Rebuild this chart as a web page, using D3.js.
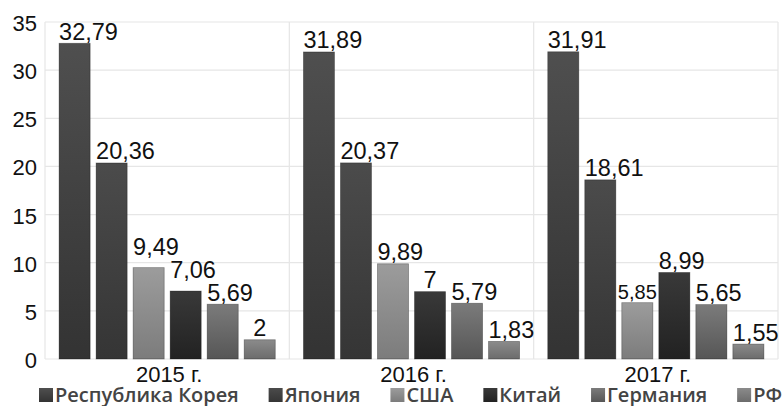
<!DOCTYPE html>
<html lang="ru">
<head>
<meta charset="utf-8">
<script src="https://cdn.jsdelivr.net/npm/d3@7"></script>
<style>
  html, body { margin: 0; padding: 0; background: #fff; }
  svg { display: block; }
</style>
</head>
<body>
<svg id="chart" width="784" height="406"></svg>
<script>
// Years on the category axis
const years = ["2015 г.", "2016 г.", "2017 г."];
// Countries (one bar per country inside each year)
const countries = ["Республика Корея", "Япония", "США", "Китай", "Германия", "РФ"];
// Values per country, in year order
const korea   = [32.79, 31.89, 31.91];
const japan   = [20.36, 20.37, 18.61];
const usa     = [9.49, 9.89, 5.85];
const china   = [7.06, 7, 8.99];
const germany = [5.69, 5.79, 5.65];
const russia  = [2, 1.83, 1.55];
// Y-axis ticks
const yTicks = [0, 5, 10, 15, 20, 25, 30, 35];

const seriesValues = [korea, japan, usa, china, germany, russia];

// Grey shades per country: [top, bottom] of the bar gradient
const shades = [
  ["#4f4f4f", "#333333"],
  ["#4b4b4b", "#353535"],
  ["#9c9c9c", "#7c7c7c"],
  ["#393939", "#222222"],
  ["#7b7b7b", "#565656"],
  ["#8b8b8b", "#6c6c6c"]
];

// Labels lifted above their bar so they clear the neighbouring label
const liftedLabels = new Set(["2015 г.|США", "2015 г.|Китай"]);
// Label printed in a smaller type
const smallLabels = new Set(["2017 г.|США"]);

const svg = d3.select("#chart");
const plot = { left: 45, right: 778, top: 22, bottom: 359 };

const x0 = d3.scaleBand().domain(years).range([plot.left, plot.right]).padding(0);
const x1 = d3.scaleBand().domain(countries).range([0, x0.bandwidth()])
  .paddingInner(0.16).paddingOuter(0.38);
const y = d3.scaleLinear().domain([0, 35]).range([plot.bottom, plot.top]);

// Gradients
const defs = svg.append("defs");
countries.forEach((c, i) => {
  const g = defs.append("linearGradient")
    .attr("id", "grad" + i).attr("x1", 0).attr("y1", 0).attr("x2", 0).attr("y2", 1);
  g.append("stop").attr("offset", "0%").attr("stop-color", shades[i][0]);
  g.append("stop").attr("offset", "100%").attr("stop-color", shades[i][1]);
});

// Horizontal gridlines
svg.append("g").selectAll("line").data(yTicks).join("line")
  .attr("x1", plot.left).attr("x2", plot.right)
  .attr("y1", d => y(d)).attr("y2", d => y(d))
  .attr("stroke", "#e6e6e6").attr("stroke-width", 1.2);

// Vertical separators between years
const seps = years.map(yr => x0(yr)).concat([plot.right]);
svg.append("g").selectAll("line").data(seps).join("line")
  .attr("x1", d => d).attr("x2", d => d)
  .attr("y1", plot.top).attr("y2", plot.bottom)
  .attr("stroke", "#e6e6e6").attr("stroke-width", 1.2);

// Y-axis tick labels
svg.append("g").selectAll("text").data(yTicks).join("text")
  .attr("x", 37).attr("y", d => y(d) + 9)
  .attr("text-anchor", "end")
  .attr("font-family", "Liberation Sans, Arial, sans-serif")
  .attr("font-size", 22).attr("fill", "#111")
  .text(d => d);

// Bars
const rows = [];
years.forEach((yr, yi) => {
  countries.forEach((c, ci) => {
    rows.push({ year: yr, country: c, ci, value: seriesValues[ci][yi] });
  });
});

svg.append("g").selectAll("rect").data(rows).join("rect")
  .attr("x", d => x0(d.year) + x1(d.country))
  .attr("y", d => y(d.value))
  .attr("width", x1.bandwidth())
  .attr("height", d => y(0) - y(d.value))
  .attr("fill", d => "url(#grad" + d.ci + ")")
  .attr("stroke", "rgba(0,0,0,0.35)").attr("stroke-width", 0.8);

// Value labels
const fmt = v => String(v).replace(".", ",");
const lbl = svg.append("g").selectAll("text").data(rows).join("text")
  .attr("font-family", "Liberation Sans, Arial, sans-serif")
  .attr("font-size", d => smallLabels.has(d.year + "|" + d.country) ? 20 : 23.5)
  .attr("fill", "#111")
  .text(d => fmt(d.value));

lbl.each(function (d) {
  const key = d.year + "|" + d.country;
  const w = this.getComputedTextLength();
  const bw = x1.bandwidth();
  const left = x0(d.year) + x1(d.country);
  const small = smallLabels.has(key);
  const tx = (small || w < bw) ? left + (bw - w) / 2 : left;
  const lift = liftedLabels.has(key) ? 13 : 3.5;
  d3.select(this).attr("x", tx).attr("y", y(d.value) - lift);
});

// Year labels
svg.append("g").selectAll("text").data(years).join("text")
  .attr("x", d => x0(d) + x0.bandwidth() / 2 + 2)
  .attr("y", 382)
  .attr("text-anchor", "middle")
  .attr("font-family", "Liberation Sans, Arial, sans-serif")
  .attr("font-size", 22).attr("fill", "#111")
  .text(d => d);

// Legend, spread across the width
const legend = svg.append("g");
const items = legend.selectAll("g").data(countries).join("g");
items.append("rect")
  .attr("width", 14).attr("height", 14).attr("y", 388)
  .attr("fill", (d, i) => "url(#grad" + i + ")");
const ltext = items.append("text")
  .attr("x", 16).attr("y", 401.5)
  .attr("font-family", "Open Sans, sans-serif")
  .attr("font-weight", 600)
  .attr("font-size", 20).attr("fill", "#444")
  .text(d => d);

const widths = [];
ltext.each(function () { widths.push(16 + this.getComputedTextLength()); });
const legLeft = 39, legRight = 782;
const gap = (legRight - legLeft - d3.sum(widths)) / (countries.length - 1);
let cx = legLeft;
items.attr("transform", (d, i) => {
  const t = "translate(" + cx + ",0)";
  cx += widths[i] + gap;
  return t;
});
</script>
</body>
</html>
